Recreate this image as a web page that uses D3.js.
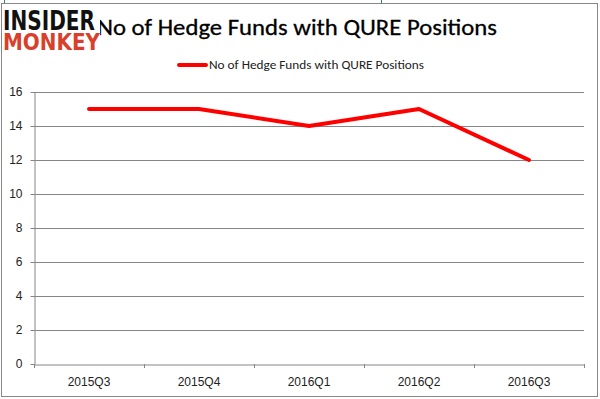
<!DOCTYPE html>
<html>
<head>
<meta charset="utf-8">
<script src="https://cdn.jsdelivr.net/npm/d3@7"></script>
<style>
  body { margin: 0; background: #fff; }
  svg { display: block; font-family: Calibri, Carlito, "Open Sans", sans-serif; }
</style>
</head>
<body>
<div id="chart"></div>
<script>
// chart data
var quarters = ["2015Q3", "2015Q4", "2016Q1", "2016Q2", "2016Q3"];
var fundCounts = [15, 15, 14, 15, 12];
var yTicks = [0, 2, 4, 6, 8, 10, 12, 14, 16];
var chartTitle = "No of Hedge Funds with QURE Positions";
var seriesName = "No of Hedge Funds with QURE Positions";

var svgWidth = 600, svgHeight = 399;
var margin = { top: 92, right: 16, bottom: 35, left: 34 };
var chartWidth = svgWidth - margin.left - margin.right;
var chartHeight = svgHeight - margin.top - margin.bottom;

var svg = d3.select("#chart").append("svg")
  .attr("width", svgWidth)
  .attr("height", svgHeight);

// outer frame + the green cell lines peeking above it
svg.append("rect")
  .attr("x", 1.5).attr("y", 3.5)
  .attr("width", 596).attr("height", 393)
  .attr("fill", "#fff").attr("stroke", "#888");
svg.append("line").attr("x1", 4.5).attr("x2", 4.5).attr("y1", 0).attr("y2", 3)
  .attr("stroke", "#2e8b57");
svg.append("line").attr("x1", 381.5).attr("x2", 381.5).attr("y1", 0).attr("y2", 3)
  .attr("stroke", "#2e8b57");

var chartGroup = svg.append("g")
  .attr("transform", `translate(${margin.left}, ${margin.top})`);

var xScale = d3.scaleBand().domain(quarters).range([0, chartWidth]);
var yScale = d3.scaleLinear().domain([0, 16]).range([chartHeight, 0]);

// horizontal gridlines
chartGroup.append("g")
  .selectAll("line")
  .data(yTicks.filter(d => d > 0))
  .enter()
  .append("line")
  .attr("x1", 0).attr("x2", chartWidth)
  .attr("y1", d => Math.round(yScale(d)) + 0.5)
  .attr("y2", d => Math.round(yScale(d)) + 0.5)
  .attr("stroke", "#868686");

// y axis
var yAxis = chartGroup.append("g")
  .attr("transform", "translate(0.5, 0)")
  .call(d3.axisLeft(yScale).tickValues(yTicks).tickSize(4).tickPadding(8).tickSizeOuter(0));
yAxis.select(".domain").attr("stroke", "#868686");
yAxis.selectAll(".tick line").attr("stroke", "#868686");
yAxis.selectAll(".tick text")
  .attr("fill", "#222").style("font-size", "12px");

// x axis, ticks at band boundaries
var xAxis = chartGroup.append("g")
  .attr("transform", `translate(0, ${chartHeight + 0.5})`)
  .call(d3.axisBottom(xScale).tickSize(0).tickPadding(13).tickSizeOuter(0));
xAxis.select(".domain").attr("stroke", "#868686");
xAxis.selectAll(".tick text")
  .attr("fill", "#222").style("font-size", "12px");
chartGroup.append("g")
  .selectAll("line")
  .data(quarters.map(q => xScale(q)).concat([chartWidth]))
  .enter()
  .append("line")
  .attr("x1", d => Math.round(d) + 0.5).attr("x2", d => Math.round(d) + 0.5)
  .attr("y1", chartHeight).attr("y2", chartHeight + 4)
  .attr("stroke", "#868686");

// the series line
var line = d3.line()
  .x((d, i) => xScale(quarters[i]) + xScale.bandwidth() / 2)
  .y(d => yScale(d));
chartGroup.append("path")
  .datum(fundCounts)
  .attr("d", line)
  .attr("fill", "none")
  .attr("stroke", "#ff0000")
  .attr("stroke-width", 4)
  .attr("stroke-linejoin", "round")
  .attr("stroke-linecap", "round");

// title
svg.append("text")
  .attr("x", 97).attr("y", 35)
  .attr("textLength", 400).attr("lengthAdjust", "spacingAndGlyphs")
  .style("font-size", "23px")
  .style("stroke", "#000").style("stroke-width", 0.3)
  .attr("fill", "#000")
  .text(chartTitle);

// legend
svg.append("line")
  .attr("x1", 179).attr("x2", 206).attr("y1", 65).attr("y2", 65)
  .attr("stroke", "#ff0000").attr("stroke-width", 4).attr("stroke-linecap", "round");
svg.append("text")
  .attr("x", 209).attr("y", 69)
  .attr("textLength", 215).attr("lengthAdjust", "spacingAndGlyphs")
  .style("font-size", "12.5px")
  .attr("fill", "#222")
  .text(seriesName);

// logo, on a white patch that hides the start of the title
var logo = svg.append("g");
logo.append("rect")
  .attr("x", 2).attr("y", 8).attr("width", 98).attr("height", 45)
  .attr("fill", "#fff");
logo.append("text")
  .attr("x", 3).attr("y", 30)
  .attr("textLength", 92).attr("lengthAdjust", "spacingAndGlyphs")
  .style("font-family", "'DejaVu Sans', sans-serif")
  .style("font-weight", "bold").style("font-size", "27px")
  .attr("fill", "#111")
  .text("INSIDER");
logo.append("text")
  .attr("x", 3).attr("y", 50)
  .attr("textLength", 97).attr("lengthAdjust", "spacingAndGlyphs")
  .style("font-family", "'DejaVu Sans', sans-serif")
  .style("font-weight", "bold").style("font-size", "23px")
  .attr("fill", "#d9402b")
  .text("MONKEY");
</script>
</body>
</html>
